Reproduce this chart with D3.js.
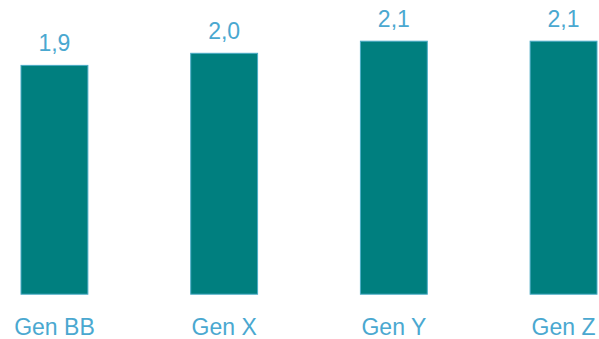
<!DOCTYPE html>
<html><head><meta charset="utf-8">
<script src="https://cdn.jsdelivr.net/npm/d3@7"></script>
<style>html,body{margin:0;padding:0;background:#fff;}svg{display:block;}</style>
</head><body>
<svg id="chart" width="599" height="339"></svg>
<script>
const categories = ["Gen BB", "Gen X", "Gen Y", "Gen Z"];
const values = [1.9, 2.0, 2.1, 2.1];
const valueLabels = ["1,9", "2,0", "2,1", "2,1"];

const svg = d3.select("#chart");
const x = d3.scaleBand().domain(categories).range([20.5, 597.5]).paddingInner(0.6).paddingOuter(0);
const y = d3.scaleLinear().domain([0, 2.1]).range([294.7, 40.7]);

svg.selectAll("rect.bar").data(categories).join("rect")
  .attr("class", "bar")
  .attr("x", d => x(d) + 0.5)
  .attr("y", (d, i) => y(values[i]) + 0.5)
  .attr("width", x.bandwidth() - 1)
  .attr("height", (d, i) => y(0) - y(values[i]) - 1)
  .attr("fill", "#007f7f")
  .attr("stroke", "#4bacc6")
  .attr("stroke-width", 1);

svg.selectAll("text.val").data(categories).join("text")
  .attr("class", "val")
  .attr("x", d => x(d) + x.bandwidth() / 2)
  .attr("y", (d, i) => y(values[i]) - 14)
  .attr("text-anchor", "middle")
  .attr("font-family", "Liberation Sans, Arial, sans-serif")
  .attr("font-size", 23)
  .attr("fill", "#4aa8d0")
  .text((d, i) => valueLabels[i]);

const xAxis = svg.append("g").attr("transform", "translate(0,294.7)")
  .call(d3.axisBottom(x).tickSize(0).tickPadding(0));
xAxis.select(".domain").remove();
xAxis.selectAll("text")
  .attr("dy", null)
  .attr("y", 40)
  .attr("font-family", "Liberation Sans, Arial, sans-serif")
  .attr("font-size", 23)
  .attr("fill", "#4aa8d0");
</script>
</body></html>
